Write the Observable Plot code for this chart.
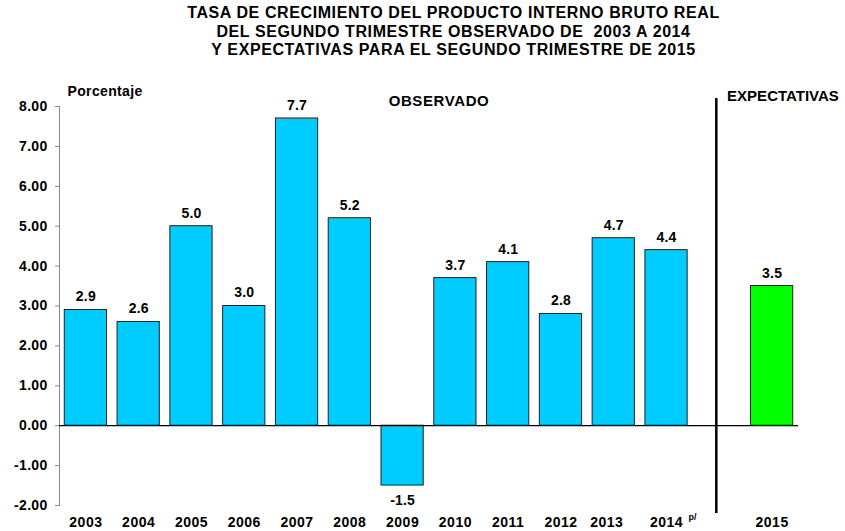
<!DOCTYPE html>
<html>
<head>
<meta charset="utf-8">
<script src="https://cdn.jsdelivr.net/npm/d3@7"></script>
<script src="https://cdn.jsdelivr.net/npm/@observablehq/plot@0.6"></script>
<style>
  body { margin: 0; background: #fff; font-family: "Liberation Sans", Arial, sans-serif; }
  #wrap { position: relative; width: 845px; height: 531px; }
  #title { position: absolute; top: 4px; left: 31px; width: 845px; text-align: center; font-weight: bold; font-size: 16px; line-height: 18.5px; letter-spacing: 0.6px; color: #000; }
  #chart { position: absolute; top: 0; left: 0; }
  .ytick text { letter-spacing: 0.3px; }
  .xlab text { letter-spacing: 0.5px; }
  .vlab text { letter-spacing: 0.2px; }
  .plab text { letter-spacing: 0.35px; }
  .olab text { letter-spacing: 0.6px; }
</style>
</head>
<body>
<div id="wrap">
  <div id="chart"></div>
  <div id="title">TASA DE CRECIMIENTO DEL PRODUCTO INTERNO BRUTO REAL<br>DEL SEGUNDO TRIMESTRE OBSERVADO DE&nbsp; 2003 A 2014<br>Y EXPECTATIVAS PARA EL SEGUNDO TRIMESTRE DE 2015</div>
</div>
<script>
const observedYears = ["2003","2004","2005","2006","2007","2008","2009","2010","2011","2012","2013","2014"];
const observedValues = [2.9, 2.6, 5.0, 3.0, 7.7, 5.2, -1.5, 3.7, 4.1, 2.8, 4.7, 4.4];
const expectedYears = ["2015"];
const expectedValues = [3.5];
const gapSlot = "gap";
const yTicks = [-2, -1, 0, 1, 2, 3, 4, 5, 6, 7, 8];

const observed = observedYears.map((year, i) => ({year, value: observedValues[i]}));
const expected = expectedYears.map((year, i) => ({year, value: expectedValues[i]}));
const all = observed.concat(expected);
const xDomain = [...observedYears, gapSlot, ...expectedYears];

const font = "Liberation Sans, Arial, sans-serif";

const chart = Plot.plot({
  width: 845,
  height: 531,
  marginTop: 106,
  marginBottom: 26,
  marginLeft: 59,
  marginRight: 47,
  style: {fontFamily: font, fontSize: "14px", fontWeight: "bold", color: "#000", background: "#fff", overflow: "visible"},
  x: {domain: xDomain, paddingInner: 0.2, paddingOuter: 0.1, round: false, axis: null},
  y: {domain: [-2, 8], ticks: yTicks, tickFormat: d => d.toFixed(2)},
  marks: [
    Plot.frame({anchor: "left", stroke: "#888"}),
    Plot.axisY({ticks: yTicks, tickFormat: d => d.toFixed(2), tickSize: 4, tickPadding: 8, stroke: "#888", fontSize: 14, fontWeight: "bold", fill: "#000", label: null, className: "ytick"}),
    Plot.barY(observed, {x: "year", y: "value", fill: "#00CCFF", stroke: "#222", strokeWidth: 1}),
    Plot.barY(expected, {x: "year", y: "value", fill: "#00FF00", stroke: "#222", strokeWidth: 1}),
    Plot.ruleY([0], {stroke: "#000", strokeWidth: 1.2}),
    Plot.ruleX([gapSlot], {x: d => d, y1: 8.2, y2: -2.2, stroke: "#000", strokeWidth: 2.5, dx: -3}),
    Plot.text(all.filter(d => d.value >= 0), {x: "year", y: "value", text: d => d.value.toFixed(1), dy: -13, fontSize: 14, fontWeight: "bold", fill: "#000", className: "vlab"}),
    Plot.text(all.filter(d => d.value < 0), {x: "year", y: "value", text: d => d.value.toFixed(1), dy: 15, fontSize: 14, fontWeight: "bold", fill: "#000", className: "vlab"}),
    Plot.text(all.filter(d => d.year !== "2013"), {x: "year", y: () => -2, text: "year", dy: 17, fontSize: 14, fontWeight: "bold", fill: "#000", className: "xlab"}),
    Plot.text(all.filter(d => d.year === "2013"), {x: "year", y: () => -2, text: "year", dy: 17, dx: -7, fontSize: 14, fontWeight: "bold", fill: "#000", className: "xlab"}),
    Plot.text(all.filter(d => d.year === "2014"), {x: "year", y: () => -2, text: () => "p/", dy: 12, dx: 22, textAnchor: "start", fontSize: 9, fontWeight: "bold", fill: "#000"}),
    Plot.text(["Porcentaje"], {frameAnchor: "top-left", text: d => d, dx: 8, dy: -20, textAnchor: "start", fontSize: 14, fontWeight: "bold", fill: "#000", className: "plab"}),
    Plot.text(["OBSERVADO"], {frameAnchor: "top", text: d => d, dx: 10, dy: -11, fontSize: 15, fontWeight: "bold", fill: "#000", className: "olab"}),
    Plot.text(["EXPECTATIVAS"], {x: () => "2015", frameAnchor: "top", text: d => d, dx: -45, dy: -16, textAnchor: "start", fontSize: 15, fontWeight: "bold", fill: "#000"})
  ]
});
document.getElementById("chart").appendChild(chart);
</script>
</body>
</html>
